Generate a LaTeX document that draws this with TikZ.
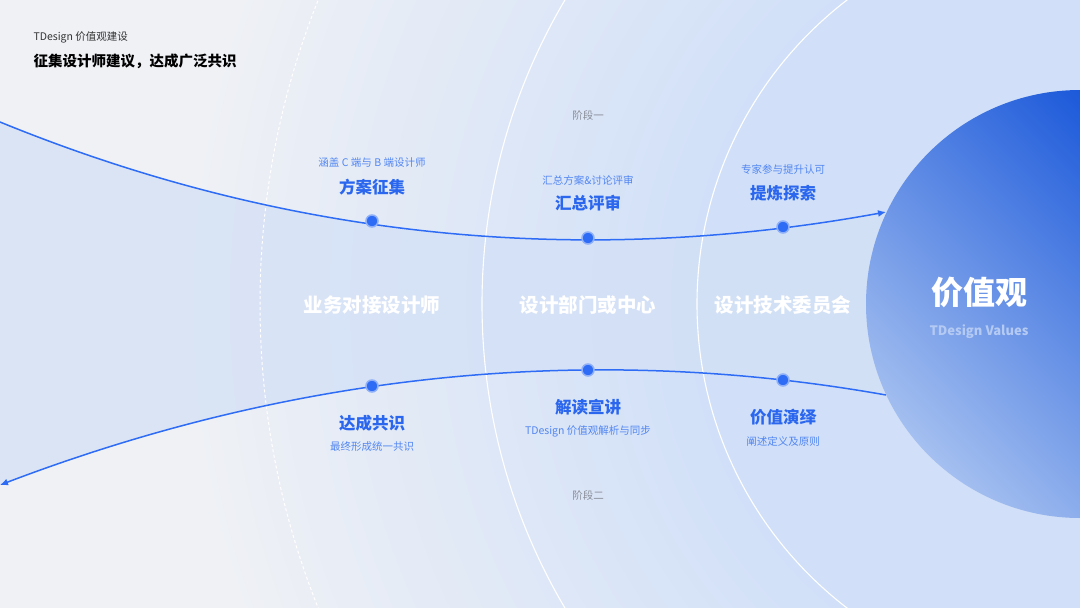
\documentclass[tikz,border=0pt]{standalone}
\usepackage{fontspec}
\setmainfont{Noto Sans CJK SC}
\newfontfamily\heavy{Noto Sans CJK SC Black}
\usepackage{tikz}
\usetikzlibrary{arrows.meta}
\definecolor{bggray}{HTML}{EFF1F5}
\definecolor{bgblue}{HTML}{D1E0F8}
\definecolor{bandblue}{HTML}{D3E0F6}
\definecolor{lineblue}{HTML}{2E6CF6}
\definecolor{haloblue}{HTML}{8FB0F8}
\definecolor{titleblue}{HTML}{2A66EE}
\definecolor{noteblue}{HTML}{5286F2}
\definecolor{phasegray}{HTML}{8A8E99}
\definecolor{coredark}{HTML}{0548D6}
\definecolor{corelight}{HTML}{A4BFF0}
\definecolor{corenote}{HTML}{B4CAF3}
\pgfdeclareradialshading{bgshade}{\pgfpoint{0bp}{0bp}}{color(0bp)=(bgblue); color(6bp)=(bgblue); color(14bp)=(bggray); color(50bp)=(bggray)}
\tikzstyle{pointblue}=[circle, fill=lineblue, draw=haloblue, line width=1.5pt, inner sep=0pt, minimum size=12pt]
\tikzstyle{arrow}=[draw=lineblue, line width=1.5pt, >={Latex[length=8pt, width=7pt]}]
\tikzstyle{arcline}=[draw=white, line width=1.1pt]
\tikzstyle{arcdash}=[draw=white, line width=1pt, dash pattern=on 3pt off 2.5pt]
\tikzstyle{stagetitle}=[font=\heavy\fontsize{16.5}{16.5}\selectfont, text=titleblue]
\tikzstyle{stagenote}=[font=\fontsize{10.5}{10.5}\selectfont, text=noteblue]
\tikzstyle{rolename}=[font=\heavy\fontsize{19.5}{19.5}\selectfont, text=white]
\tikzstyle{phase}=[font=\fontsize{10.5}{10.5}\selectfont, text=phasegray]

\begin{document}
\begin{tikzpicture}[x=1pt, y=-1pt]
		   \useasboundingbox (0,0) rectangle (1080,608);
		   \coordinate (tin) at (0,122);
		   \coordinate (tout) at (886,212);
		   \coordinate (bin) at (886,395);
		   \coordinate (bout) at (0,485);
		   \begin{scope}
			   \clip (0,0) rectangle (1080,608);
			   % background, band and rings
			   \shade[shading=bgshade] (1080,304) circle (1600pt);
			   \fill[bandblue, fill opacity=0.75] (tin) .. controls (295.3,242.7) and (590.7,266) .. (tout)
			       -- (bin) .. controls (590.7,342.5) and (295.3,372.5) .. (bout) -- cycle;
			   \draw[arcdash] (1080,304) circle (820pt);
			   \draw[arcline] (1080,304) circle (598pt);
			   \draw[arcline] (1080,304) circle (383pt);
		   \end{scope}
		   \begin{scope}
			   \draw[arrow, ->] (tin) .. controls (295.3,242.7) and (590.7,266) .. (tout);
			   \draw[arrow, ->] (bin) .. controls (590.7,342.5) and (295.3,372.5) .. (bout);
			   \node (t1) at (372,221)[pointblue] {};
			   \node (t2) at (588,238)[pointblue] {};
			   \node (t3) at (783,227)[pointblue] {};
			   \node (b1) at (372,386)[pointblue] {};
			   \node (b2) at (588,370)[pointblue] {};
			   \node (b3) at (783,380)[pointblue] {};
		   \end{scope}
		   \begin{scope}
			   \clip (0,0) rectangle (1080,608);
			   \shade[top color=coredark, bottom color=corelight, shading angle=-45] (1080,304) circle (214pt);
		   \end{scope}
		   % texts
		   \node (sub) at (30,37)[anchor=west, font=\fontsize{10.5}{10.5}\selectfont, text=black!80] {TDesign 价值观建设};
		   \node (head) at (30,61)[anchor=west, font=\bfseries\fontsize{14.5}{14.5}\selectfont, text=black] {征集设计师建议，达成广泛共识};
		   \node (p1) at (588,115)[phase] {阶段一};
		   \node (p2) at (588,495)[phase] {阶段二};
		   \node (n1) at (372,163)[stagenote] {涵盖 C 端与 B 端设计师};
		   \node (s1) at (372,187)[stagetitle] {方案征集};
		   \node (n2) at (588,180)[stagenote] {汇总方案\&讨论评审};
		   \node (s2) at (588,203)[stagetitle] {汇总评审};
		   \node (n3) at (783,169)[stagenote] {专家参与提升认可};
		   \node (s3) at (783,193)[stagetitle] {提炼探索};
		   \node (r1) at (372,305)[rolename] {业务对接设计师};
		   \node (r2) at (588,305)[rolename] {设计部门或中心};
		   \node (r3) at (783,305)[rolename] {设计技术委员会};
		   \node (s4) at (372,423)[stagetitle] {达成共识};
		   \node (n4) at (372,447)[stagenote] {最终形成统一共识};
		   \node (s5) at (588,407)[stagetitle] {解读宣讲};
		   \node (n5) at (588,431)[stagenote] {TDesign 价值观解析与同步};
		   \node (s6) at (783,417)[stagetitle] {价值演绎};
		   \node (n6) at (783,441)[stagenote] {阐述定义及原则};
		   \node (core) at (979,292)[font=\heavy\fontsize{32}{32}\selectfont, text=white] {价值观};
		   \node (corename) at (979,332)[font=\bfseries\fontsize{13}{13}\selectfont, text=corenote] {TDesign Values};
	   \end{tikzpicture}
\end{document}
